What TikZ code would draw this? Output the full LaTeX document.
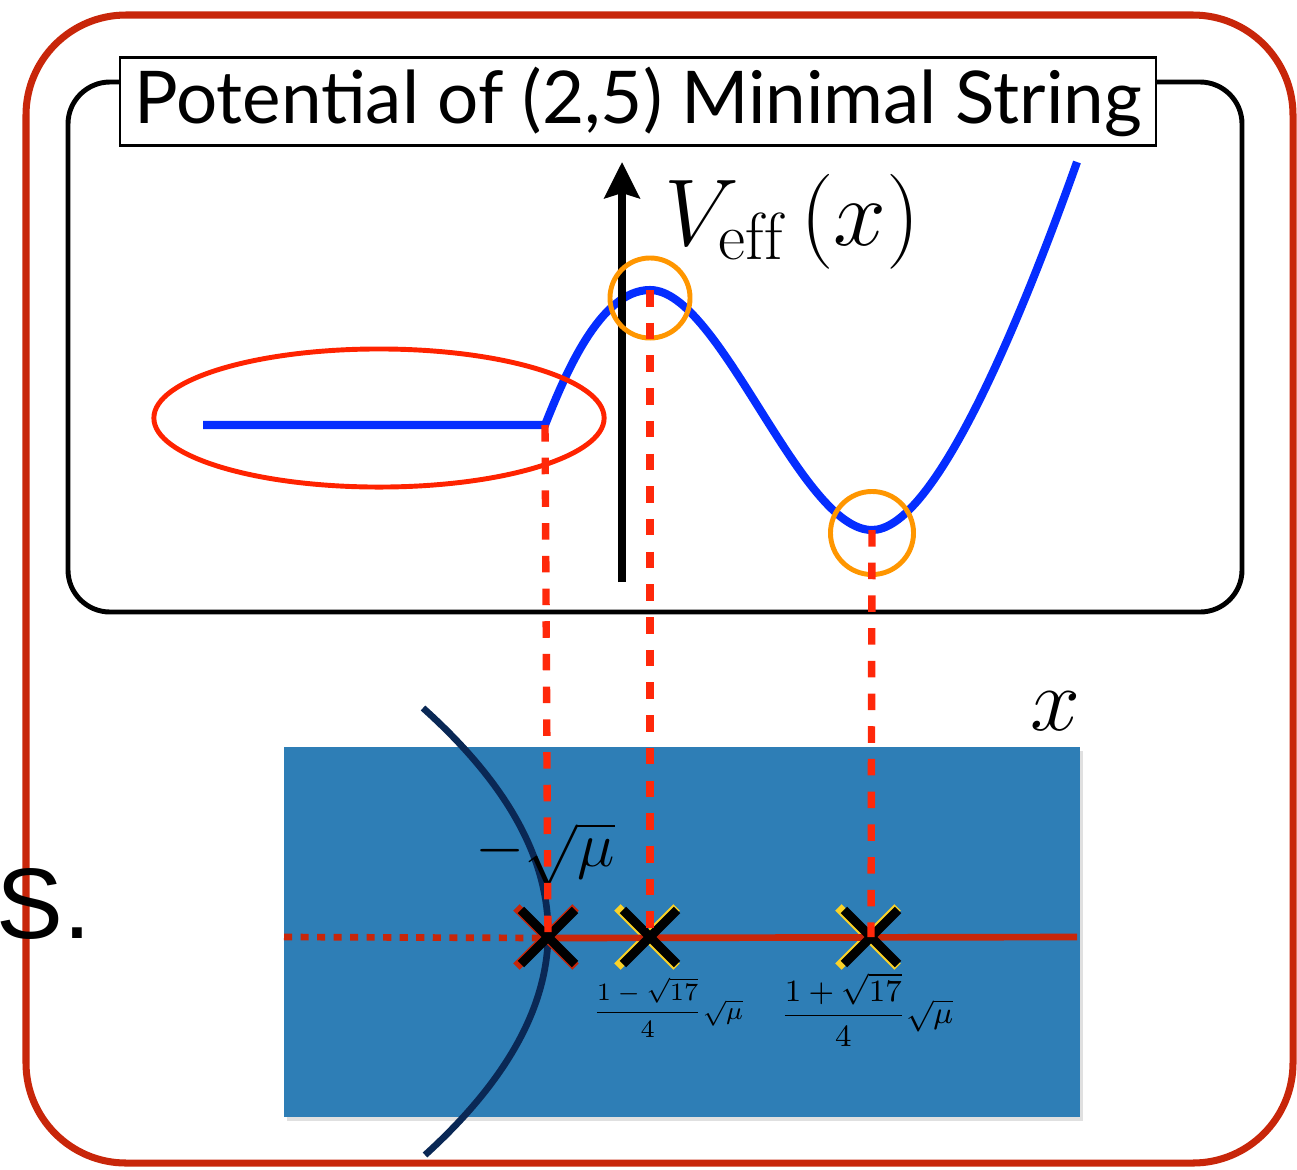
\RequirePackage{fix-cm}
\documentclass[tikz,border=0pt]{standalone}
\usepackage{fontspec}
\setsansfont{Lato}
\newfontfamily\helv{Liberation Sans}
\usetikzlibrary{arrows.meta,shapes.geometric,shapes.misc}

\definecolor{framered}{RGB}{200,38,10}
\definecolor{curveblue}{RGB}{5,45,255}
\definecolor{ringred}{RGB}{255,35,0}
\definecolor{guidered}{RGB}{255,40,10}
\definecolor{ringorange}{RGB}{255,150,0}
\definecolor{cutnavy}{RGB}{10,40,85}
\definecolor{planeblue}{RGB}{46,126,182}
\definecolor{markyellow}{RGB}{250,210,40}

\tikzset{
  frame/.style={draw=framered, line width=2pt, rounded corners=1cm},
  panel/.style={draw=black, line width=1.4pt, rounded corners=0.42cm},
  titlebox/.style={draw=black, line width=0.6pt, fill=white, inner sep=0pt,
    minimum width=10.36cm, minimum height=0.88cm,
    font=\sffamily\fontsize{20.7}{24}\selectfont},
  potline/.style={draw=curveblue, line width=2.3pt},
  ring/.style={circle, draw=ringorange, line width=1.4pt, inner sep=0pt},
  guide/.style={draw=guidered, line width=2.1pt, dash pattern=on 4.7pt off 4.6pt},
  xmark/.style={cross out, draw=black, line width=2.6pt, inner sep=0pt, minimum size=0.45cm},
  xshade/.style={cross out, line width=2.6pt, inner sep=0pt, minimum size=0.5cm}
}

\begin{document}
\begin{tikzpicture}[x=0.01cm, y=-0.01cm]
\useasboundingbox (0,0) rectangle (1297,1169);

% outer frame and side text
\draw[frame] (26,15) rectangle (1293,1163);
\node[font=\helv\fontsize{28.5}{30}\selectfont, anchor=base west, inner sep=0pt] (sdot) at (-4,938) {S.};

% potential panel
\draw[panel] (68,82) rectangle (1242,612);
\node[titlebox] (title) at (638,101.5) {Potential of (2,5) Minimal String};

\coordinate (flatL) at (203,425);
\coordinate (kink) at (545,425);
\coordinate (peak) at (650,290);
\coordinate (valley) at (872,530);
\coordinate (rise) at (1077,162);
\coordinate (axbot) at (622,582);
\coordinate (axtop) at (622,162);

\draw[potline] (flatL) -- (kink)
  .. controls (565,375) and (600,290) .. (peak)
  .. controls (720,290) and (800,530) .. (valley)
  .. controls (930,530) and (1010,350) .. (rise);
\draw[line width=2.3pt, -{Stealth[length=0.36cm, width=0.35cm, inset=0.05cm]}] (axbot) -- (axtop);
\node[anchor=base west, inner sep=0pt, font=\fontsize{27}{32}\selectfont] (veff) at (664,245) {$V_{\mathrm{eff}}\,(x)$};

\node[ellipse, draw=ringred, line width=1.4pt, inner sep=0pt,
  minimum width=4.5cm, minimum height=1.38cm] (flat) at (379,418) {};
\node[ring, minimum size=0.8cm] (topring) at (650,298) {};
\node[ring, minimum size=0.83cm] (lowring) at (872,533) {};

% x-plane
\fill[black, opacity=0.12] (287,751) rectangle (1083,1121);
\fill[planeblue] (284,747) rectangle (1080,1117);
\node[anchor=base, font=\fontsize{25.5}{30}\selectfont] (xlab) at (1055,730) {$x$};

\draw[cutnavy, line width=1.9pt] (423,708) .. controls (589,857) and (590,1005) .. (425,1155);

\coordinate (planeW) at (284,937);
\coordinate (planeE) at (1077,937);
\node[xshade, draw=framered] (xsh) at (546,937) {};
\node[xshade, draw=markyellow] (xsm) at (647,937) {};
\node[xshade, draw=markyellow] (xsp) at (868,937) {};
\draw[draw=framered, line width=1.9pt] (548,938) -- (planeE);
\draw[draw=framered, line width=1.9pt, dash pattern=on 2.3pt off 2.4pt] (planeW) -- (548,938);
\node[xmark] (xs) at (548,937) {};
\node[xmark] (xm) at (650,937) {};
\node[xmark] (xp) at (871,937) {};

\node[anchor=base, font=\fontsize{18}{20}\selectfont] (musq) at (545,866) {$-\sqrt{\mu}$};
\node[anchor=base, font=\fontsize{7.1}{9}\selectfont] (rootm) at (668,1019) {$\displaystyle\frac{1-\sqrt{17}}{4}\sqrt{\mu}$};
\node[anchor=base, font=\fontsize{8.8}{11}\selectfont] (rootp) at (867,1023) {$\displaystyle\frac{1+\sqrt{17}}{4}\sqrt{\mu}$};

% projections
\draw[guide] (kink) -- (xs.center);
\draw[guide] (peak) -- (xm.center);
\draw[guide] (valley) -- (xp.center);
\end{tikzpicture}
\end{document}
